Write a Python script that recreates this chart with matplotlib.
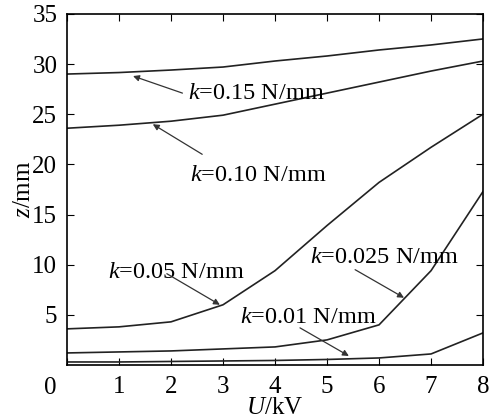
import numpy as np
import matplotlib
matplotlib.use("Agg")
import matplotlib.pyplot as plt

plt.rcParams['font.family'] = 'Liberation Serif'
plt.rcParams['mathtext.fontset'] = 'custom'
plt.rcParams['mathtext.it'] = 'Liberation Serif:italic'
plt.rcParams['mathtext.rm'] = 'Liberation Serif'

# voltage U (kV)
U = [0, 1, 2, 3, 4, 5, 6, 7, 8]

# displacement z (mm) for each spring stiffness k
z_015 = [29.0, 29.15, 29.4, 29.7, 30.3, 30.8, 31.4, 31.9, 32.5]
z_010 = [23.6, 23.9, 24.3, 24.9, 26.0, 27.1, 28.2, 29.3, 30.3]
z_005 = [3.6, 3.8, 4.3, 6.0, 9.4, 13.9, 18.2, 21.7, 25.0]
z_0025 = [1.2, 1.3, 1.4, 1.6, 1.8, 2.5, 4.0, 9.4, 17.3]
z_001 = [0.3, 0.3, 0.35, 0.4, 0.45, 0.55, 0.7, 1.1, 3.2]

# label text, text position, arrow head position
labels = [
    ("0.15", (2.33, 27.1), (1.27, 28.8)),
    ("0.10", (2.37, 18.9), (1.65, 24.0)),
    ("0.05", (0.79, 9.2), (2.94, 6.0)),
    ("0.025", (4.67, 10.7), (6.48, 6.7)),
    ("0.01", (3.33, 4.7), (5.42, 0.9)),
]
tails = [(2.22, 27.1), (2.6, 21.0), (1.92, 9.1), (5.54, 9.5), (4.48, 3.7)]

fig = plt.figure(figsize=(4.98, 4.2), dpi=100)
ax = fig.add_axes([0.1345, 0.131, 0.8355, 0.836])

for z in [z_015, z_010, z_005, z_0025, z_001]:
    ax.plot(U, z, color='#222222', lw=1.2)

for (k, tpos, head), tail in zip(labels, tails):
    ax.text(tpos[0], tpos[1], r'$k$=' + k + ' N/mm', fontsize=17.5,
            ha='left', va='center')
    ax.annotate('', xy=head, xytext=tail,
                arrowprops=dict(arrowstyle='-|>', color='#333333', lw=0.9,
                                mutation_scale=9, shrinkA=0, shrinkB=0))

ax.set_xlim(0, 8)
ax.set_ylim(0, 35)
ax.set_xticks(range(0, 9))
ax.set_xticklabels([''] + [str(i) for i in range(1, 9)])
ax.set_yticks(range(5, 36, 5))
ax.tick_params(direction='in', top=True, right=True, length=5,
               labelsize=18, pad=7)
ax.tick_params(axis='x', pad=8)
ax.text(-0.33, -2.3, '0', fontsize=18, ha='center', va='center')
for s in ax.spines.values():
    s.set_linewidth(1.2)

ax.set_xlabel(r'$U$/kV', fontsize=18, labelpad=-1)
ax.set_ylabel(r'$z$/mm', fontsize=18, labelpad=-2)

fig.savefig('out.png', dpi=100)
